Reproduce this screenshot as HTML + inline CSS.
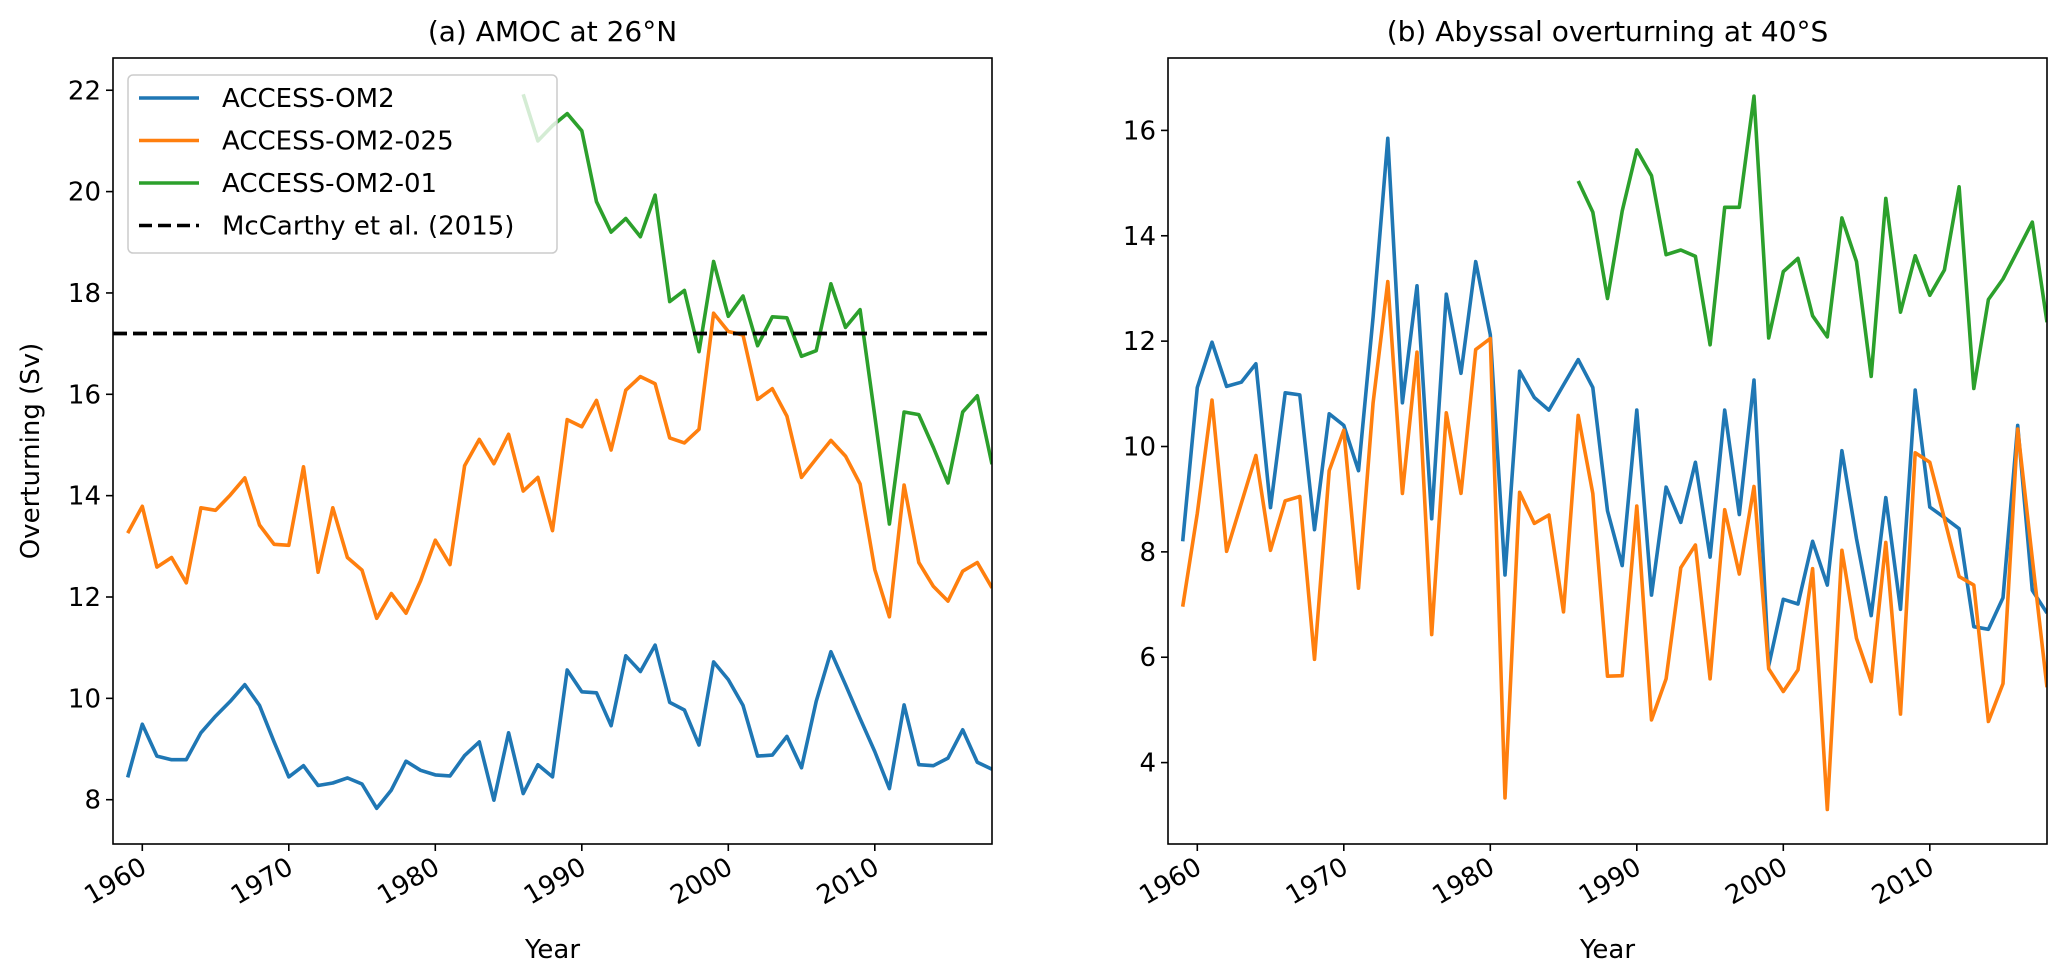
<!DOCTYPE html>
<html><head><meta charset="utf-8">
<style>
html,body{margin:0;padding:0;background:#fff;}
svg{display:block;font-family:"DejaVu Sans","Liberation Sans",sans-serif;}
</style></head>
<body>
<svg id="fig" width="2067" height="977" viewBox="0 0 2067 977" xmlns="http://www.w3.org/2000/svg">
<defs>
<clipPath id="clipA"><rect x="113" y="58" width="879" height="786"/></clipPath>
<clipPath id="clipB"><rect x="1168" y="58" width="879" height="786"/></clipPath>
</defs>
<rect x="0" y="0" width="2067" height="977" fill="#fff"/>
<g id="panelA"></g>
<g id="panelB"></g>
</svg>
<script>
const years = [];
for (let y = 1959; y <= 2018; y++) years.push(y);
const greenYears = [];
for (let y = 1986; y <= 2018; y++) greenYears.push(y);

const amocOM2 = [8.44,9.49,8.86,8.79,8.79,9.32,9.65,9.94,10.27,9.86,9.14,8.45,8.67,8.28,8.33,8.43,8.31,7.83,8.19,8.76,8.58,8.49,8.47,8.87,9.14,7.99,9.32,8.12,8.69,8.45,10.56,10.13,10.11,9.46,10.84,10.53,11.05,9.92,9.77,9.08,10.72,10.37,9.86,8.86,8.88,9.25,8.63,9.94,10.92,10.27,9.60,8.95,8.22,9.87,8.69,8.67,8.82,9.38,8.74,8.60];
const amocOM2025 = [13.26,13.79,12.59,12.78,12.28,13.76,13.71,14.01,14.35,13.42,13.04,13.02,14.57,12.49,13.76,12.78,12.53,11.58,12.07,11.68,12.32,13.12,12.64,14.59,15.11,14.63,15.21,14.09,14.36,13.31,15.50,15.36,15.88,14.90,16.08,16.35,16.21,15.14,15.04,15.31,17.60,17.24,17.17,15.90,16.11,15.57,14.36,14.73,15.09,14.78,14.23,12.54,11.61,14.21,12.68,12.21,11.92,12.51,12.68,12.18];
const amocOM201 = [21.92,21.00,21.30,21.54,21.20,19.80,19.20,19.47,19.11,19.93,17.83,18.05,16.84,18.62,17.54,17.94,16.96,17.53,17.51,16.75,16.86,18.18,17.32,17.67,15.57,13.44,15.65,15.60,14.95,14.25,15.65,15.97,14.62];
const mccarthy = 17.2;

const abyOM2 = [8.20,11.12,11.98,11.14,11.22,11.57,8.84,11.02,10.98,8.42,10.62,10.40,9.54,12.46,15.85,10.83,13.05,8.63,12.89,11.39,13.51,12.12,7.56,11.43,10.93,10.69,11.17,11.65,11.12,8.78,7.74,10.69,7.18,9.23,8.56,9.70,7.90,10.69,8.71,11.26,5.84,7.10,7.01,8.20,7.37,9.92,8.25,6.79,9.03,6.91,11.07,8.85,8.65,8.44,6.58,6.53,7.13,10.40,7.27,6.84];
const abyOM2025 = [6.96,8.73,10.88,8.01,8.92,9.83,8.03,8.97,9.05,5.96,9.54,10.31,7.31,10.83,13.13,9.11,11.79,6.43,10.64,9.11,11.84,12.05,3.33,9.13,8.54,8.70,6.86,10.59,9.11,5.64,5.65,8.87,4.81,5.59,7.70,8.13,5.59,8.80,7.58,9.24,5.78,5.35,5.76,7.68,3.11,8.03,6.36,5.54,8.18,4.92,9.88,9.70,8.63,7.53,7.37,4.78,5.50,10.33,7.87,5.43];
const abyOM201 = [15.04,14.45,12.81,14.47,15.63,15.14,13.64,13.73,13.61,11.93,14.54,14.54,16.65,12.06,13.32,13.57,12.48,12.08,14.34,13.51,11.33,14.71,12.55,13.62,12.87,13.35,14.93,11.10,12.79,13.18,13.72,14.26,12.36];

const xTicks = [1960,1970,1980,1990,2000,2010];
const yTicksA = [8,10,12,14,16,18,20,22];
const yTicksB = [4,6,8,10,12,14,16];
const legendLabels = ["ACCESS-OM2","ACCESS-OM2-025","ACCESS-OM2-01","McCarthy et al. (2015)"];

const NS = "http://www.w3.org/2000/svg";
const C_BLUE="#1f77b4", C_ORANGE="#ff7f0e", C_GREEN="#2ca02c";
function mk(tag, attrs, parent){ const e=document.createElementNS(NS,tag); for(const k in attrs) e.setAttribute(k,attrs[k]); parent.appendChild(e); return e; }

function drawPanel(g, cfg){
  const L=cfg.left, R=cfg.left+879, T=58, B=844;
  const xs = y => L + (y-1958)/(2018-1958)*(R-L);
  const ys = v => cfg.y0px + (v-cfg.y0)*(cfg.y1px-cfg.y0px)/(cfg.y1-cfg.y0);
  const lines = mk("g",{"clip-path":"url(#"+cfg.clip+")"},g);
  function series(xv, yv, color, name){
    const d = yv.map((v,i)=>(i?"L":"M")+xs(xv[i]).toFixed(1)+","+ys(v).toFixed(1)).join("");
    const p = mk("path",{d:d,fill:"none",stroke:color,"stroke-width":3.6,"stroke-linejoin":"round"},lines);
    
    
  }
  series(years, cfg.s1, C_BLUE, cfg.prefix+"-line-access-om2");
  series(years, cfg.s2, C_ORANGE, cfg.prefix+"-line-access-om2-025");
  series(greenYears, cfg.s3, C_GREEN, cfg.prefix+"-line-access-om2-01");
  if (cfg.hline!==undefined){
    const h = mk("line",{x1:L,x2:R,y1:ys(cfg.hline),y2:ys(cfg.hline),stroke:"#000","stroke-width":3.8,"stroke-dasharray":"14,6"},lines);
    
    
  }
  if (cfg.legend){
    const lg = mk("g",{},g);
    
    
    mk("rect",{x:128,y:75,width:429,height:178,rx:5,fill:"#fff","fill-opacity":0.8,stroke:"#ccc","stroke-width":1.5},lg);
    const cols=[C_BLUE,C_ORANGE,C_GREEN,"#000"];
    legendLabels.forEach((lab,i)=>{
      const yy = 98 + i*42.5;
      const ln = mk("line",{x1:139,x2:199,y1:yy,y2:yy,stroke:cols[i],"stroke-width":3.6},lg);
      if(i===3) ln.setAttribute("stroke-dasharray","13,6");
      const t = mk("text",{x:222,y:yy+9,"font-size":26,fill:"#000"},lg);
      t.textContent = lab;
      
      
    });
  }
  mk("rect",{x:L,y:T,width:R-L,height:B-T,fill:"none",stroke:"#000","stroke-width":1.6},g);
  cfg.yt.forEach(v=>{
    const y=ys(v);
    mk("line",{x1:L-7,x2:L,y1:y,y2:y,stroke:"#000","stroke-width":1.6},g);
    const t=mk("text",{x:L-12,y:y+9,"font-size":26,"text-anchor":"end",fill:"#000"},g);
    t.textContent=v;
    
    
  });
  xTicks.forEach(yr=>{
    const x=xs(yr);
    mk("line",{x1:x,x2:x,y1:B,y2:B+7,stroke:"#000","stroke-width":1.6},g);
    const t=mk("text",{x:0,y:0,"font-size":26,"text-anchor":"end",fill:"#000",transform:"translate("+(x+6)+","+(B+28)+") rotate(-30)"},g);
    t.textContent=yr;
    
    
  });
  const cx=(L+R)/2;
  const tt=mk("text",{x:cx,y:41,"font-size":28,"text-anchor":"middle",fill:"#000"},g);
  tt.textContent=cfg.title;
  
  
  const xl=mk("text",{x:cx,y:958,"font-size":26,"text-anchor":"middle",fill:"#000"},g);
  xl.textContent="Year";
  
  
  if (cfg.ylabel){
    const yl=mk("text",{x:0,y:0,"font-size":26,"text-anchor":"middle",fill:"#000",transform:"translate(39,451) rotate(-90)"},g);
    yl.textContent=cfg.ylabel;
    
    
  }
}

drawPanel(document.getElementById("panelA"),{left:113,clip:"clipA",prefix:"amoc",
  y0:16,y0px:394.3,y1:12,y1px:597,s1:amocOM2,s2:amocOM2025,s3:amocOM201,hline:mccarthy,
  yt:yTicksA,legend:true,title:"(a) AMOC at 26°N",ylabel:"Overturning (Sv)"});
drawPanel(document.getElementById("panelB"),{left:1168,clip:"clipB",prefix:"abyssal",
  y0:16,y0px:130.4,y1:4,y1px:762.6,s1:abyOM2,s2:abyOM2025,s3:abyOM201,
  yt:yTicksB,legend:false,title:"(b) Abyssal overturning at 40°S"});
</script>
</body></html>
